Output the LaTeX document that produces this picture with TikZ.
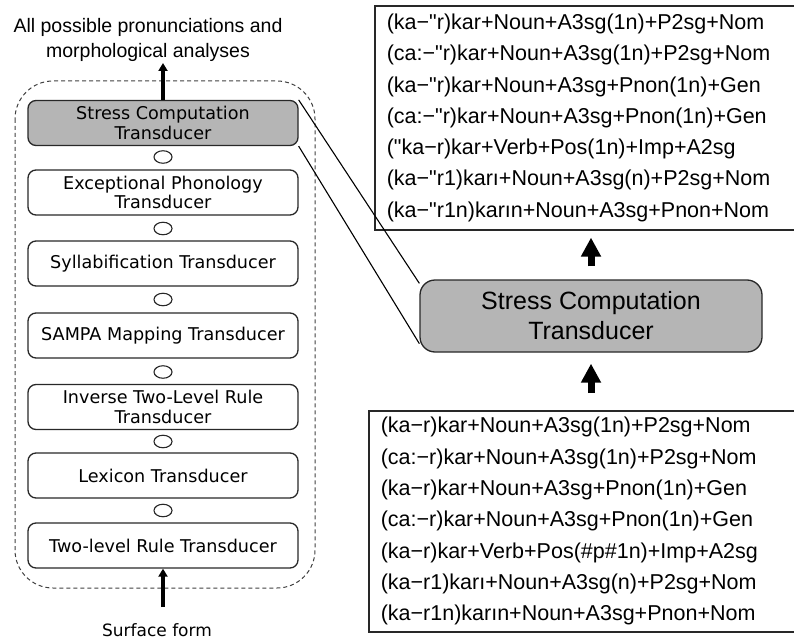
\documentclass[tikz,border=0pt]{standalone}
\usepackage{fontspec}
\setmainfont{Liberation Sans}[Ligatures=TeXOff]
\newfontfamily\stagefont{DejaVu Sans}
\usetikzlibrary{arrows.meta,shapes.geometric}

\definecolor{stagegray}{RGB}{181,181,181}
\definecolor{edgegray}{RGB}{40,40,40}

\begin{document}
\begin{tikzpicture}[x=1pt,y=-1pt,
  stage/.style={draw=edgegray, line width=1.3pt, rounded corners=8pt, fill=white,
    minimum width=270pt, minimum height=45pt, inner sep=0pt, align=center,
    font=\stagefont\fontsize{17.6}{19.5}\selectfont},
  hilite/.style={fill=stagegray},
  joint/.style={draw=edgegray, line width=1.1pt, ellipse, minimum width=18pt,
    minimum height=12.5pt, inner sep=0pt},
  bigstage/.style={draw=edgegray, line width=1.3pt, rounded corners=15pt, fill=stagegray,
    minimum width=342pt, minimum height=72pt, inner sep=0pt, align=center,
    font=\fontsize{25}{30}\selectfont},
  listbox/.style={draw=edgegray, line width=1.6pt, anchor=north west, inner xsep=12pt,
    inner ysep=0pt, align=left, font=\fontsize{21.5}{31.3}\selectfont},
  flowarrow/.style={line width=3.6pt, -{Triangle[width=9pt,length=8pt]}},
  bigarrow/.style={line width=7pt, -{Triangle[width=19pt,length=19pt]}},
  link/.style={line width=1.1pt, draw=black},
  label/.style={align=center, inner sep=0pt}
]
\path[use as bounding box] (0,0) rectangle (794,639);
\clip (0,0) rectangle (794,639);

% cascade of transducers
\draw[draw=black!75, line width=1pt, dash pattern=on 4pt off 3pt, rounded corners=38pt]
  (15,81) rectangle (315,588);

\node[stage, hilite] (s1) at (163,123) {Stress Computation\\Transducer};
\node[joint] (c1) at (163,157) {};
\node[stage] (s2) at (163,192.5) {Exceptional Phonology\\Transducer};
\node[joint] (c2) at (163,228.5) {};
\node[stage] (s3) at (163,263.5) {Syllabification Transducer};
\node[joint] (c3) at (163,299.5) {};
\node[stage] (s4) at (163,335.5) {SAMPA Mapping Transducer};
\node[joint] (c4) at (163,372) {};
\node[stage] (s5) at (163,407) {Inverse Two-Level Rule\\Transducer};
\node[joint] (c5) at (163,441.5) {};
\node[stage] (s6) at (163,475.5) {Lexicon Transducer};
\node[joint] (c6) at (163,510.5) {};
\node[stage] (s7) at (163,545.5) {Two-level Rule Transducer};

% input and output of the cascade
\node[label, font=\fontsize{19.5}{25}\selectfont] (out) at (148,39.5)
  {All possible pronunciations and\\morphological analyses};
\node[label, font=\stagefont\fontsize{17}{19}\selectfont] (in) at (157,630) {Surface form};
\coordinate (outtip) at (163,63);
\coordinate (infoot) at (163,607);
\draw[flowarrow] (s1.north) -- (outtip);
\draw[flowarrow] (infoot) -- (s7.south);

% enlarged stress stage with its input and output
\node[bigstage] (big) at (591,316) {Stress Computation\\Transducer};

\node[listbox, text width=402pt, minimum height=224pt] (res) at (374,5)
  {(ka−"r)kar+Noun+A3sg(1n)+P2sg+Nom\\
   (ca:−"r)kar+Noun+A3sg(1n)+P2sg+Nom\\
   (ka−"r)kar+Noun+A3sg+Pnon(1n)+Gen\\
   (ca:−"r)kar+Noun+A3sg+Pnon(1n)+Gen\\
   ("ka−r)kar+Verb+Pos(1n)+Imp+A2sg\\
   (ka−"r1)karı+Noun+A3sg(n)+P2sg+Nom\\
   (ka−"r1n)karın+Noun+A3sg+Pnon+Nom};

\node[listbox, text width=408pt, minimum height=221pt] (src) at (368,410)
  {(ka−r)kar+Noun+A3sg(1n)+P2sg+Nom\\
   (ca:−r)kar+Noun+A3sg(1n)+P2sg+Nom\\
   (ka−r)kar+Noun+A3sg+Pnon(1n)+Gen\\
   (ca:−r)kar+Noun+A3sg+Pnon(1n)+Gen\\
   (ka−r)kar+Verb+Pos(\#p\#1n)+Imp+A2sg\\
   (ka−r1)karı+Noun+A3sg(n)+P2sg+Nom\\
   (ka−r1n)karın+Noun+A3sg+Pnon+Nom};

\draw[bigarrow] ([yshift=17pt]src.north -| big.south) -- ([yshift=-11pt]big.south);
\draw[bigarrow] ([yshift=13pt]big.north) -- ([yshift=-7pt]res.south -| big.north);

% magnification lines
\draw[link] (s1.north east) -- ([yshift=-4pt]big.north west);
\draw[link] (s1.south east) -- ([yshift=9pt]big.south west);
\end{tikzpicture}
\end{document}
